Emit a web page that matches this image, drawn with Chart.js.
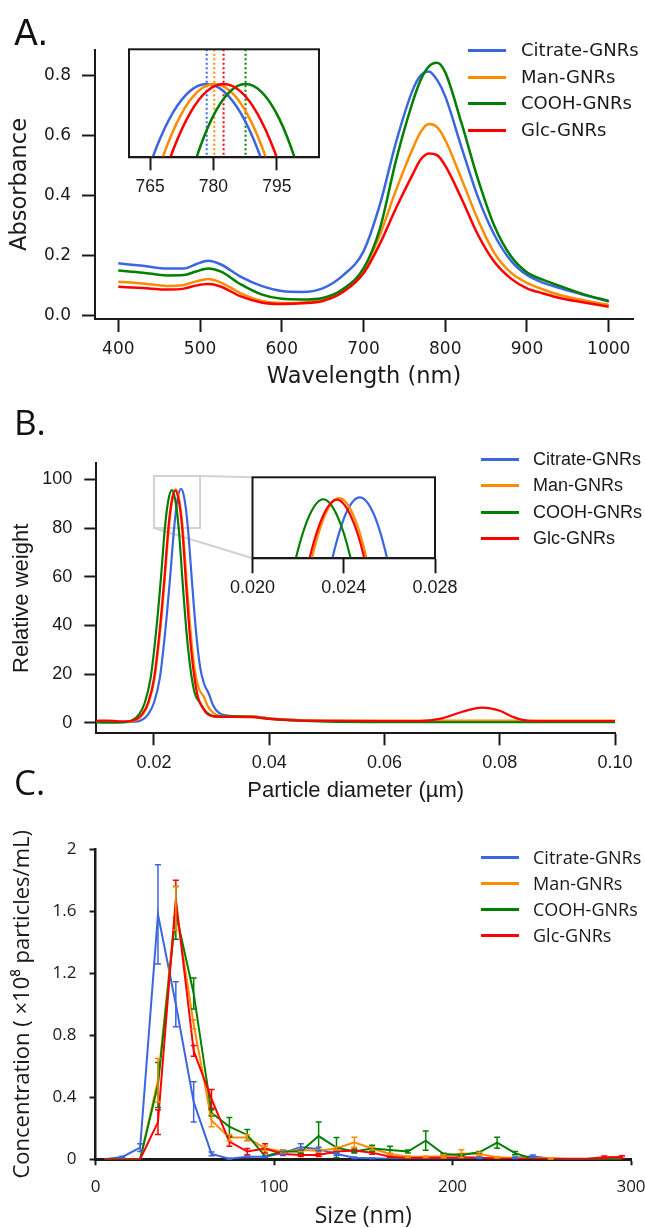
<!DOCTYPE html>
<html lang="en">
<head>
<meta charset="UTF-8">
<title>GNRs - UV-Vis, DLS e NTA</title>
<script src="https://cdn.jsdelivr.net/npm/chart.js"></script>
<style>
  body { margin: 0; background: #fff; }
  #figura { position: relative; width: 645px; height: 1228px; overflow: hidden; background: #fff; }
  #figura canvas { position: absolute; }
  .letra { position: absolute; font-size: 35px; line-height: 35px; color: #111; }
  .item { position: absolute; height: 24px; line-height: 24px; white-space: nowrap; color: #1a1a1a; }
  .traco { position: absolute; left: 0; top: 11px; height: 3px; }
  .rotulo { position: absolute; top: 0; }
</style>
</head>
<body>
<div id="figura">
  <canvas id="graficoA" width="645" height="400" style="left:0;top:0"></canvas>
  <canvas id="insetA" width="240" height="170" style="left:100px;top:40px"></canvas>
  <canvas id="graficoB" width="645" height="415" style="left:0;top:400px"></canvas>
  <canvas id="insetB" width="250" height="150" style="left:220px;top:460px"></canvas>
  <canvas id="graficoC" width="660" height="412" style="left:0;top:820px"></canvas>

  <div class="letra" style="left:14px;top:16px;font-family:'DejaVu Sans'">A.</div>
  <div class="letra" style="left:14px;top:404px;font-family:'Open Sans'">B.</div>
  <div class="letra" style="left:14px;top:764px;font-family:'Open Sans'">C.</div>
</div>

<script>
    // series e cores
    var series = ['Citrate-GNRs', 'Man-GNRs', 'COOH-GNRs', 'Glc-GNRs'];
    var cores = ['#3b66e0', '#ff8c00', '#007f00', '#ff0000'];
    var preto = '#1a1a1a';

    // A. absorbancia (UV-Vis)
    var comprimentos = [400, 430, 460, 480, 495, 510, 525, 550, 575, 600, 625, 650, 675, 700, 720, 740, 760, 770, 780, 790, 800, 820, 840, 860, 880, 900, 920, 940, 970, 1000];
    var absCitrate = [0.175, 0.167, 0.158, 0.158, 0.172, 0.184, 0.172, 0.130, 0.100, 0.083, 0.080, 0.092, 0.135, 0.215, 0.370, 0.580, 0.750, 0.800, 0.813, 0.785, 0.730, 0.560, 0.395, 0.270, 0.185, 0.136, 0.110, 0.093, 0.070, 0.048];
    var absMan = [0.114, 0.108, 0.100, 0.103, 0.115, 0.123, 0.112, 0.075, 0.050, 0.043, 0.045, 0.055, 0.085, 0.153, 0.270, 0.420, 0.555, 0.612, 0.638, 0.628, 0.585, 0.455, 0.320, 0.210, 0.145, 0.110, 0.088, 0.070, 0.052, 0.037];
    var absCooh = [0.151, 0.144, 0.135, 0.136, 0.148, 0.158, 0.148, 0.105, 0.072, 0.057, 0.055, 0.060, 0.090, 0.158, 0.290, 0.520, 0.710, 0.785, 0.830, 0.842, 0.810, 0.640, 0.455, 0.300, 0.200, 0.145, 0.120, 0.100, 0.072, 0.050];
    var absGlc = [0.097, 0.093, 0.088, 0.091, 0.101, 0.106, 0.098, 0.065, 0.045, 0.040, 0.042, 0.050, 0.080, 0.142, 0.240, 0.360, 0.470, 0.520, 0.540, 0.535, 0.500, 0.390, 0.270, 0.180, 0.125, 0.092, 0.075, 0.060, 0.045, 0.031];
    var ticksXA = [400, 500, 600, 700, 800, 900, 1000];
    var ticksYA = [0, 0.2, 0.4, 0.6, 0.8];
    var rotulosYA = ['0.0', '0.2', '0.4', '0.6', '0.8'];

    // A. detalhe normalizado do pico
    var insetCitrateX = [762.4, 766.4, 770.4, 774.4, 778.4, 782.4, 786.4, 790.4, 794.4];
    var insetCitrateY = [0.9375, 0.9648, 0.9844, 0.9961, 1.0, 0.9961, 0.9844, 0.9648, 0.9375];
    var insetManX = [764.2, 768.2, 772.2, 776.2, 780.2, 784.2, 788.2, 792.2, 796.2];
    var insetManY = [0.9312, 0.9613, 0.9828, 0.9957, 1.0, 0.9957, 0.9828, 0.9613, 0.9312];
    var insetCoohX = [771.6, 775.6, 779.6, 783.6, 787.6, 791.6, 795.6, 799.6, 803.6];
    var insetCoohY = [0.9239, 0.9572, 0.981, 0.9952, 1.0, 0.9952, 0.981, 0.9572, 0.9239];
    var insetGlcX = [766.4, 770.4, 774.4, 778.4, 782.4, 786.4, 790.4, 794.4, 798.4];
    var insetGlcY = [0.9355, 0.9637, 0.9839, 0.996, 1.0, 0.996, 0.9839, 0.9637, 0.9355];
    // picos na ordem das series: Citrate, Man, COOH, Glc
    var picosA = [778.4, 780.2, 787.6, 782.4];
    var ticksInsetA = [765, 780, 795];

    // B. distribuicao de tamanho (DLS)
    var diamCitrate = [0.010, 0.013, 0.016, 0.0178, 0.0190, 0.0200, 0.0210, 0.0220, 0.0228, 0.0235, 0.0241, 0.0247, 0.0253, 0.0259, 0.0266, 0.0273, 0.0280, 0.0287, 0.0295, 0.0303, 0.0313, 0.0325, 0.034, 0.037, 0.040, 0.045, 0.050, 0.070, 0.100];
    var pesoCitrate = [0.2, 0.1, 0.3, 1.0, 3.4, 8.2, 18, 38.5, 59.5, 80, 91.9, 96.1, 91.9, 80, 58, 37.5, 23, 16, 12, 7, 4, 3, 2.7, 2.6, 1.8, 1.1, 0.8, 0.7, 0.7];
    var diamMan = [0.010, 0.013, 0.015, 0.0169, 0.0181, 0.0191, 0.0201, 0.0211, 0.0219, 0.0226, 0.0232, 0.0238, 0.0244, 0.0250, 0.0257, 0.0264, 0.0271, 0.0278, 0.0286, 0.0294, 0.0304, 0.0316, 0.034, 0.037, 0.040, 0.045, 0.050, 0.070, 0.100];
    var pesoMan = [0.3, 0.2, 0.3, 1.0, 3.4, 8.2, 18, 38, 59.5, 80, 91.7, 95.9, 91.7, 80, 57.5, 36.5, 21.5, 14, 11, 6.5, 3.8, 2.8, 2.7, 2.6, 1.8, 1.1, 0.9, 0.9, 0.9];
    var diamCooh = [0.010, 0.013, 0.015, 0.0162, 0.0174, 0.0184, 0.0194, 0.0204, 0.0212, 0.0219, 0.0225, 0.0231, 0.0237, 0.0243, 0.0250, 0.0257, 0.0264, 0.0271, 0.0279, 0.0287, 0.0297, 0.0309, 0.034, 0.037, 0.040, 0.045, 0.050, 0.060, 0.100];
    var pesoCooh = [0.2, 0.1, 0.3, 1.0, 3.3, 8.1, 18, 38, 59, 80, 91.4, 95.6, 91.4, 80, 57, 36, 21, 12, 8.5, 5.5, 3.3, 2.6, 2.6, 2.4, 1.6, 0.8, 0.4, 0.2, 0.2];
    var diamGlc = [0.010, 0.012, 0.014, 0.016, 0.0168, 0.0180, 0.0190, 0.0200, 0.0210, 0.0218, 0.0225, 0.0231, 0.0237, 0.0243, 0.0249, 0.0256, 0.0263, 0.0270, 0.0277, 0.0285, 0.0293, 0.0303, 0.0315, 0.034, 0.037, 0.040, 0.045, 0.050, 0.060, 0.066, 0.070, 0.0735, 0.0769, 0.080, 0.0825, 0.085, 0.090, 0.100];
    var pesoGlc = [0.8, 0.9, 0.6, 0.7, 1.3, 3.6, 8.3, 18, 38, 59, 80, 91.3, 95.5, 91.3, 80, 56, 34, 19, 10, 6, 3.5, 2.6, 2.4, 2.4, 2.3, 1.6, 1.0, 0.8, 0.7, 0.7, 1.8, 4.5, 6.2, 4.9, 2.2, 0.8, 0.7, 0.7];
    var ticksXB = [0.02, 0.04, 0.06, 0.08, 0.10];
    var rotulosXB = ['0.02', '0.04', '0.06', '0.08', '0.10'];
    var ticksYB = [0, 20, 40, 60, 80, 100];
    var ticksInsetB = [0.020, 0.024, 0.028];
    var rotulosInsetB = ['0.020', '0.024', '0.028'];
    var zoomBx = [0.020, 0.028];
    var zoomBy = [80, 101.4];

    // C. concentracao (NTA)
    var tamanhos = [5, 15, 25, 35, 45, 55, 65, 75, 85, 95, 105, 115, 125, 135, 145, 155, 165, 175, 185, 195, 205, 215, 225, 235, 245, 255, 265, 275, 285, 295];
    var concCitrate = [0, 0.015, 0.075, 1.58, 1.0, 0.37, 0.035, 0.003, 0.017, 0.017, 0.04, 0.08, 0.065, 0.034, 0.01, 0.006, 0.004, 0.004, 0.004, 0.004, 0.006, 0.01, 0.004, 0.01, 0.02, 0.003, 0, 0, 0, 0];
    var erroCitrate = [0, 0.005, 0.025, 0.32, 0.145, 0.13, 0.012, 0.004, 0.005, 0.005, 0.01, 0.02, 0.012, 0.01, 0.005, 0.003, 0, 0, 0, 0, 0, 0.005, 0, 0.005, 0.008, 0, 0, 0, 0, 0];
    var concMan = [0, 0, 0, 0.51, 1.62, 0.87, 0.25, 0.14, 0.14, 0.07, 0.05, 0.06, 0.055, 0.07, 0.11, 0.07, 0.034, 0.017, 0.017, 0.02, 0.037, 0.035, 0.013, 0.008, 0.008, 0.006, 0.002, 0, 0, 0];
    var erroMan = [0, 0, 0, 0.14, 0.14, 0.03, 0.04, 0.02, 0.02, 0.015, 0.01, 0.01, 0.01, 0.01, 0.033, 0.01, 0.005, 0.005, 0.005, 0.01, 0.025, 0.01, 0.005, 0, 0, 0.004, 0, 0, 0, 0];
    var concCooh = [0, 0, 0, 0.48, 1.59, 1.07, 0.30, 0.21, 0.157, 0.02, 0.05, 0.05, 0.15, 0.075, 0.05, 0.07, 0.06, 0.05, 0.12, 0.034, 0.028, 0.045, 0.107, 0.04, 0.004, 0, 0, 0, 0, 0];
    var erroCooh = [0, 0, 0, 0.145, 0.17, 0.1, 0.02, 0.06, 0.035, 0.005, 0.01, 0.01, 0.09, 0.065, 0.01, 0.02, 0.025, 0.01, 0.062, 0.005, 0.005, 0.005, 0.035, 0.01, 0, 0, 0, 0, 0, 0];
    var concGlc = [0, 0, 0, 0.24, 1.68, 0.70, 0.39, 0.114, 0.05, 0.07, 0.034, 0.028, 0.028, 0.05, 0.056, 0.043, 0.017, 0.008, 0.01, 0.01, 0.013, 0.01, 0.005, 0.004, 0.004, 0.004, 0.004, 0.004, 0.013, 0.015];
    var erroGlc = [0, 0, 0, 0.08, 0.12, 0.035, 0.06, 0.03, 0.02, 0.03, 0.01, 0.01, 0.01, 0.01, 0.01, 0.01, 0.005, 0, 0, 0, 0.005, 0, 0, 0, 0, 0, 0, 0, 0.008, 0.008];
    var ticksXC = [0, 100, 200, 300];
    var ticksYC = [0, 0.4, 0.8, 1.2, 1.6, 2];
    var rotulosYC = ['0', '0.4', '0.8', '1.2', '1.6', '2'];

    // ---------- helpers ----------
    function linha(xs, ys, i, largura, suave) {
        var ds = {
            label: series[i],
            data: xs.map(function (x, j) { return { x: x, y: ys[j] }; }),
            borderColor: cores[i],
            borderWidth: largura,
            pointRadius: 0,
            fill: false,
            order: 4 - i
        };
        if (suave) ds.cubicInterpolationMode = 'monotone';
        return ds;
    }

    function eixo(cfg) {
        return {
            type: 'linear',
            min: cfg.min,
            max: cfg.max,
            bounds: 'data',
            afterBuildTicks: function (s) {
                s.ticks = cfg.valores.map(function (v) { return { value: v }; });
            },
            afterFit: function (s) {
                if (cfg.horizontal) s.height = cfg.tam; else s.width = cfg.tam;
            },
            ticks: {
                autoSkip: false, maxRotation: 0, padding: cfg.pad, color: preto,
                font: { family: cfg.fonte, size: cfg.fs },
                callback: function (v, i) { return cfg.rotulos ? cfg.rotulos[i] : String(v); }
            },
            grid: { display: true, drawOnChartArea: false, drawTicks: true, tickLength: cfg.tl, tickWidth: 2, tickColor: preto },
            border: { display: true, color: preto, width: cfg.bw || 2 },
            title: cfg.titulo ? {
                display: true, text: cfg.titulo, color: preto,
                font: { family: cfg.fonte, size: cfg.ts }, padding: cfg.tp
            } : { display: false }
        };
    }

    function grafico(id, datasets, escalas, padding, plugins) {
        return new Chart(document.getElementById(id), {
            type: 'line',
            data: { datasets: datasets },
            options: {
                responsive: false,
                animation: false,
                events: [],
                layout: { padding: padding, autoPadding: false },
                plugins: { legend: { display: false }, tooltip: { enabled: false } },
                scales: escalas
            },
            plugins: plugins || []
        });
    }

    // moldura preta dos detalhes
    var moldura = {
        id: 'moldura',
        afterDraw: function (chart) {
            var a = chart.chartArea, ctx = chart.ctx;
            ctx.save();
            ctx.strokeStyle = preto;
            ctx.lineWidth = 2;
            ctx.strokeRect(a.left, a.top, a.right - a.left, a.bottom - a.top);
            ctx.restore();
        }
    };

    // barras de erro do painel C
    var barrasErro = {
        id: 'barrasErro',
        afterDatasetsDraw: function (chart) {
            var ctx = chart.ctx, ey = chart.scales.y;
            for (var i = chart.data.datasets.length - 1; i >= 0; i--) {
                var ds = chart.data.datasets[i];
                var meta = chart.getDatasetMeta(i);
                ctx.save();
                ctx.strokeStyle = ds.borderColor;
                ctx.lineWidth = 1.5;
                meta.data.forEach(function (pt, j) {
                    var e = ds.erros[j];
                    if (!e) return;
                    var v = ds.data[j].y;
                    var y1 = ey.getPixelForValue(v + e);
                    var y2 = ey.getPixelForValue(Math.max(v - e, 0));
                    ctx.beginPath();
                    ctx.moveTo(pt.x, y1); ctx.lineTo(pt.x, y2);
                    ctx.moveTo(pt.x - 3, y1); ctx.lineTo(pt.x + 3, y1);
                    ctx.moveTo(pt.x - 3, y2); ctx.lineTo(pt.x + 3, y2);
                    ctx.stroke();
                });
                ctx.restore();
            }
        }
    };

    function montarLegenda(x, y, passo, fonte, linhaW, textoX) {
        var fig = document.getElementById('figura');
        for (var i = 0; i < series.length; i++) {
            var item = document.createElement('div');
            item.className = 'item';
            item.style.left = x + 'px';
            item.style.top = Math.round(y + i * passo - 12) + 'px';
            item.style.font = fonte;
            item.style.lineHeight = '24px';
            item.innerHTML = '<span class="traco" style="width:' + linhaW + 'px;background:' + cores[i] + '"></span>' +
                '<span class="rotulo" style="left:' + textoX + 'px">' + series[i] + '</span>';
            fig.appendChild(item);
        }
    }

    // ---------- A ----------
    grafico('graficoA', [
        linha(comprimentos, absCitrate, 0, 2.5, true),
        linha(comprimentos, absMan, 1, 2.5, true),
        linha(comprimentos, absCooh, 2, 2.5, true),
        linha(comprimentos, absGlc, 3, 2.5, true)
    ], {
        x: eixo({ horizontal: true, min: 371.5, max: 1029.7, valores: ticksXA, tam: 81, tl: 13, pad: 7,
            fonte: 'DejaVu Sans', fs: 17, titulo: 'Wavelength (nm)', ts: 22.5, tp: { top: 0, bottom: 9.5 } }),
        y: eixo({ min: -0.01, max: 0.8843, valores: ticksYA, rotulos: rotulosYA, tam: 95, tl: 13, pad: 11,
            fonte: 'DejaVu Sans', fs: 17, titulo: 'Absorbance', ts: 22.5, tp: { top: 6.5, bottom: 0 } })
    }, { left: 0, top: 50, right: 12, bottom: 0 });

    var dsInsetA = [
        linha(insetCitrateX, insetCitrateY, 0, 2.5, true),
        linha(insetManX, insetManY, 1, 2.5, true),
        linha(insetCoohX, insetCoohY, 2, 2.5, true),
        linha(insetGlcX, insetGlcY, 3, 2.5, true)
    ];
    picosA.forEach(function (p, i) {
        dsInsetA.push({
            data: [{ x: p, y: 0.9 }, { x: p, y: 1.1 }],
            borderColor: cores[i], borderWidth: 2, borderDash: [2, 2.5],
            pointRadius: 0, fill: false, order: 10 + i
        });
    });
    grafico('insetA', dsInsetA, {
        x: eixo({ horizontal: true, min: 760, max: 805, valores: ticksInsetA, tam: 52.7, tl: 13, pad: 6.5,
            fonte: 'Liberation Sans', fs: 17.5 }),
        y: { display: false, min: 0.96, max: 1.019 }
    }, { left: 29, top: 9.3, right: 21, bottom: 0 }, [moldura]);

    // ---------- B ----------
    var insetB = grafico('insetB', [
        linha(diamCitrate, pesoCitrate, 0, 2.2, true),
        linha(diamMan, pesoMan, 1, 2.2, true),
        linha(diamCooh, pesoCooh, 2, 2.2, true),
        linha(diamGlc, pesoGlc, 3, 2.2, true)
    ], {
        x: eixo({ horizontal: true, min: zoomBx[0], max: zoomBx[1], valores: ticksInsetB, rotulos: rotulosInsetB,
            tam: 51.7, tl: 15, pad: 4, fonte: 'Liberation Sans', fs: 18 }),
        y: { display: false, min: zoomBy[0], max: zoomBy[1] }
    }, { left: 32.5, top: 17.3, right: 35, bottom: 0 }, [moldura]);

    // retangulo cinza e ligacoes com o detalhe
    var marcaZoom = {
        id: 'marcaZoom',
        beforeDatasetsDraw: function (chart) {
            var ex = chart.scales.x, ey = chart.scales.y, ctx = chart.ctx;
            var x0 = ex.getPixelForValue(zoomBx[0]), x1 = ex.getPixelForValue(zoomBx[1]);
            var y0 = ey.getPixelForValue(zoomBy[1]), y1 = ey.getPixelForValue(zoomBy[0]);
            var a = insetB.chartArea;
            var dx = insetB.canvas.offsetLeft - chart.canvas.offsetLeft;
            var dy = insetB.canvas.offsetTop - chart.canvas.offsetTop;
            ctx.save();
            ctx.strokeStyle = '#d2d2d2';
            ctx.lineWidth = 2;
            ctx.strokeRect(x0, y0, x1 - x0, y1 - y0);
            ctx.beginPath();
            ctx.moveTo(x1, y0); ctx.lineTo(a.left + dx, a.top + dy);
            ctx.moveTo(x0, y1); ctx.lineTo(a.left + dx, a.bottom + dy);
            ctx.stroke();
            ctx.restore();
        }
    };

    grafico('graficoB', [
        linha(diamCitrate, pesoCitrate, 0, 2.2, true),
        linha(diamMan, pesoMan, 1, 2.2, true),
        linha(diamCooh, pesoCooh, 2, 2.2, true),
        linha(diamGlc, pesoGlc, 3, 2.2, true)
    ], {
        x: eixo({ horizontal: true, min: 0.01, max: 0.10, valores: ticksXB, rotulos: rotulosXB, tam: 81.7, tl: 12, pad: 7,
            fonte: 'Liberation Sans', fs: 18, titulo: 'Particle diameter (µm)', ts: 22, tp: { top: 0, bottom: 10.8 } }),
        y: eixo({ min: -4.35, max: 106.6, valores: ticksYB, tam: 96.3, tl: 12, pad: 12,
            fonte: 'Liberation Sans', fs: 18, titulo: 'Relative weight', ts: 22, tp: { top: 8.5, bottom: 0 } })
    }, { left: 0, top: 63.3, right: 30, bottom: 0 }, [marcaZoom]);

    // ---------- C ----------
    var dsC = [
        linha(tamanhos, concCitrate, 0, 2, false),
        linha(tamanhos, concMan, 1, 2, false),
        linha(tamanhos, concCooh, 2, 2, false),
        linha(tamanhos, concGlc, 3, 2, false)
    ];
    dsC[0].erros = erroCitrate;
    dsC[1].erros = erroMan;
    dsC[2].erros = erroCooh;
    dsC[3].erros = erroGlc;

    grafico('graficoC', dsC, {
        x: eixo({ horizontal: true, min: 0, max: 300, valores: ticksXC, tam: 72.7, tl: 6, pad: 11.5, bw: 3,
            fonte: 'Open Sans', fs: 17, titulo: 'Size (nm)', ts: 23, tp: { top: 0, bottom: 2.2 } }),
        y: eixo({ min: 0, max: 2, valores: ticksYC, rotulos: rotulosYC, tam: 95.5, tl: 6, pad: 13, bw: 2.5,
            fonte: 'Open Sans', fs: 17, titulo: 'Concentration ( ×10⁸ particles/mL)', ts: 22, tp: { top: 10, bottom: 0 } })
    }, { left: 0, top: 29.3, right: 29, bottom: 0 }, [barrasErro]);

    // legendas
    montarLegenda(468, 50, 26.7, '18px "DejaVu Sans"', 38, 53);
    montarLegenda(481, 459.3, 26.1, '18px "Liberation Sans"', 38, 52);
    montarLegenda(481, 856.7, 26.1, '18px "Open Sans"', 38, 52);
</script>
</body>
</html>
